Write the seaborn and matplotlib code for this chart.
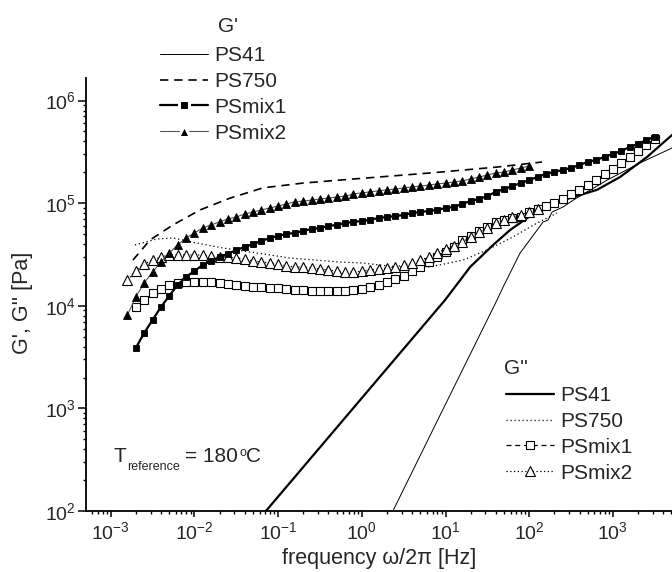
import matplotlib
matplotlib.use("Agg")
import matplotlib.pyplot as plt
from matplotlib.lines import Line2D
from matplotlib.ticker import FixedLocator, LogLocator, NullFormatter
import seaborn as sns

# ---------------- data ----------------
# common measuring grid (10 points per decade), Hz
freq_grid = [1.585e-3, 1.995e-3, 2.512e-3, 3.162e-3, 3.981e-3, 5.012e-3, 6.310e-3, 7.943e-3,
             1.000e-2, 1.259e-2, 1.585e-2, 1.995e-2, 2.512e-2, 3.162e-2, 3.981e-2, 5.012e-2, 6.310e-2, 7.943e-2,
             1.000e-1, 1.259e-1, 1.585e-1, 1.995e-1, 2.512e-1, 3.162e-1, 3.981e-1, 5.012e-1, 6.310e-1, 7.943e-1,
             1.000, 1.259, 1.585, 1.995, 2.512, 3.162, 3.981, 5.012, 6.310, 7.943,
             10.00, 12.59, 15.85, 19.95, 25.12, 31.62, 39.81, 50.12, 63.10, 79.43,
             100.0, 125.9, 158.5, 199.5, 251.2, 316.2, 398.1, 501.2, 631.0, 794.3,
             1000., 1259., 1585., 1995., 2512., 3162.]

freq_mix1 = freq_grid[1:64]
psmix1_Gp = [3.88e3, 5.43e3, 7.27e3, 9.73e3, 1.25e4, 1.60e4, 1.91e4, 2.18e4, 2.50e4, 2.73e4,
             2.99e4, 3.20e4, 3.50e4, 3.74e4, 4.00e4, 4.28e4, 4.58e4, 4.79e4, 5.01e4, 5.13e4,
             5.36e4, 5.61e4, 5.73e4, 6.00e4, 6.14e4, 6.41e4, 6.56e4, 6.71e4, 6.86e4, 7.18e4,
             7.33e4, 7.50e4, 7.67e4, 8.02e4, 8.20e4, 8.39e4, 8.59e4, 8.98e4, 9.19e4, 9.82e4,
             1.05e5, 1.10e5, 1.17e5, 1.29e5, 1.37e5, 1.47e5, 1.57e5, 1.68e5, 1.80e5, 1.93e5,
             2.01e5, 2.11e5, 2.20e5, 2.36e5, 2.52e5, 2.64e5, 2.82e5, 3.02e5, 3.23e5, 3.53e5,
             3.78e5, 4.13e5, 4.42e5]
psmix1_Gpp = [9.73e3, 1.14e4, 1.33e4, 1.46e4, 1.60e4, 1.67e4, 1.71e4, 1.71e4, 1.71e4, 1.71e4,
              1.67e4, 1.63e4, 1.60e4, 1.56e4, 1.52e4, 1.52e4, 1.49e4, 1.49e4, 1.46e4, 1.43e4,
              1.43e4, 1.39e4, 1.39e4, 1.39e4, 1.39e4, 1.39e4, 1.43e4, 1.46e4, 1.52e4, 1.60e4,
              1.71e4, 1.82e4, 1.95e4, 2.18e4, 2.39e4, 2.67e4, 2.99e4, 3.34e4, 3.74e4, 4.38e4,
              4.79e4, 5.36e4, 5.86e4, 6.56e4, 6.86e4, 7.18e4, 7.33e4, 8.20e4, 8.78e4, 9.40e4,
              1.00e5, 1.10e5, 1.23e5, 1.35e5, 1.50e5, 1.68e5, 1.93e5, 2.15e5, 2.47e5, 2.82e5,
              3.23e5, 3.69e5, 4.23e5]

freq_mix2_Gp = freq_grid[0:49]
psmix2_Gp = [8.13e3, 1.22e4, 1.67e4, 2.13e4, 2.67e4, 3.27e4, 3.92e4, 4.58e4, 5.13e4, 5.73e4,
             6.14e4, 6.56e4, 7.02e4, 7.33e4, 7.85e4, 8.20e4, 8.59e4, 8.98e4, 9.40e4, 9.82e4,
             1.03e5, 1.05e5, 1.07e5, 1.10e5, 1.12e5, 1.15e5, 1.17e5, 1.23e5, 1.26e5, 1.29e5,
             1.32e5, 1.35e5, 1.37e5, 1.41e5, 1.44e5, 1.47e5, 1.50e5, 1.54e5, 1.57e5, 1.61e5,
             1.65e5, 1.72e5, 1.80e5, 1.88e5, 1.97e5, 2.01e5, 2.11e5, 2.20e5, 2.31e5]
freq_mix2_Gpp = freq_grid[0:50]
psmix2_Gpp = [1.78e4, 2.18e4, 2.55e4, 2.79e4, 2.99e4, 3.13e4, 3.13e4, 3.13e4, 3.13e4, 3.13e4,
              3.06e4, 2.99e4, 2.99e4, 2.92e4, 2.86e4, 2.73e4, 2.67e4, 2.61e4, 2.55e4, 2.44e4,
              2.39e4, 2.39e4, 2.33e4, 2.28e4, 2.23e4, 2.18e4, 2.13e4, 2.13e4, 2.18e4, 2.23e4,
              2.28e4, 2.33e4, 2.39e4, 2.50e4, 2.61e4, 2.79e4, 2.99e4, 3.27e4, 3.58e4, 3.83e4,
              4.19e4, 4.69e4, 5.24e4, 5.73e4, 6.41e4, 6.86e4, 7.33e4, 7.67e4, 8.20e4, 8.78e4]

freq_ps41_Gp = [2.17, 9.89, 41.3, 48.7, 77.8, 146.6, 168, 187.6, 254, 334, 853, 2113, 5085]
ps41_Gp = [87.5, 1079, 1.14e4, 1.52e4, 3.27e4, 6.56e4, 6.86e4, 8.2e4, 9.19e4, 1.07e5,
           1.68e5, 2.47e5, 3.45e5]

freq_ps41_Gpp = [0.0608, 0.830, 9.89, 19.7, 37.1, 59.1, 102.5, 254, 647, 1217, 2556, 5085]
ps41_Gpp = [85.5, 1054, 1.14e4, 2.39e4, 3.92e4, 5.48e4, 7.50e4, 1.07e5, 1.35e5, 1.80e5,
            2.82e5, 4.62e5]

freq_ps750_Gp = [1.845e-3, 2.95e-3, 5.55e-3, 0.01167, 0.0266, 0.0660, 0.198, 0.549, 6.53, 41.3, 142]
ps750_Gp = [2.79e4, 4.38e4, 6.14e4, 8.59e4, 1.12e5, 1.41e5, 1.57e5, 1.68e5, 1.97e5, 2.25e5, 2.52e5]

freq_ps750_Gpp = [1.95e-3, 3.57e-3, 5.55e-3, 0.01074, 0.0220, 0.0560, 0.1387, 0.549, 1.03, 2.63,
                  6.53, 16.2, 31.3, 64.1, 124, 215]
ps750_Gpp = [3.92e4, 4.48e4, 4.58e4, 4.09e4, 3.66e4, 3.27e4, 2.92e4, 2.67e4, 2.61e4, 2.39e4,
             2.39e4, 2.79e4, 3.50e4, 4.69e4, 6.41e4, 8.02e4]

legend_labels = ["PS41", "PS750", "PSmix1", "PSmix2"]
x_major_ticks = [1e-3, 1e-2, 1e-1, 1e0, 1e1, 1e2, 1e3]
y_major_ticks = [1e2, 1e3, 1e4, 1e5, 1e6]

# ---------------- style ----------------
sns.set_style("ticks")
plt.rcParams["font.family"] = ["Liberation Sans", "DejaVu Sans"]
plt.rcParams["mathtext.fontset"] = "custom"
plt.rcParams["mathtext.rm"] = "Liberation Sans"
plt.rcParams["mathtext.it"] = "Liberation Sans:italic"
plt.rcParams["mathtext.default"] = "regular"

W, H = 672, 572
fig = plt.figure(figsize=(W / 100, H / 100), dpi=100)
ax = fig.add_axes([86 / W, 1 - 511 / H, (672 - 86) / W, (511 - 78) / H])
ax.set_xscale("log")
ax.set_yscale("log")

GRAY = "#555555"
st = {
    "ps41_Gp": dict(color="k", lw=0.7, ls="-"),
    "ps750_Gp": dict(color="k", lw=1.2, ls=(0, (5, 3.5))),
    "mix1_Gp": dict(color="k", lw=1.6, ls="-", marker="s", ms=5, mfc="k", mec="k", mew=0.6),
    "mix2_Gp": dict(color=GRAY, lw=0.8, ls="-", marker="^", ms=6, mfc="k", mec="k", mew=0.6),
    "ps41_Gpp": dict(color="k", lw=1.6, ls="-"),
    "ps750_Gpp": dict(color="k", lw=0.9, ls=(0, (1, 2.2))),
    "mix1_Gpp": dict(color="k", lw=0.9, ls=(0, (4, 3)), marker="s", ms=5.5, mfc="white", mec="k", mew=0.8),
    "mix2_Gpp": dict(color="k", lw=0.9, ls=(0, (1, 2)), marker="^", ms=6.5, mfc="white", mec="k", mew=0.8),
}

def draw(x, y, key):
    sns.lineplot(x=x, y=y, ax=ax, sort=False, errorbar=None, legend=False, **st[key])

draw(freq_ps41_Gp, ps41_Gp, "ps41_Gp")
draw(freq_ps41_Gpp, ps41_Gpp, "ps41_Gpp")
draw(freq_ps750_Gp, ps750_Gp, "ps750_Gp")
draw(freq_ps750_Gpp, ps750_Gpp, "ps750_Gpp")
draw(freq_mix1, psmix1_Gpp, "mix1_Gpp")
draw(freq_mix2_Gpp, psmix2_Gpp, "mix2_Gpp")
draw(freq_mix2_Gp, psmix2_Gp, "mix2_Gp")
draw(freq_mix1, psmix1_Gp, "mix1_Gp")

ax.set_xlim(5.07e-4, 5.08e3)
ax.set_ylim(1e2, 1.66e6)
ax.xaxis.set_major_locator(FixedLocator(x_major_ticks))
ax.yaxis.set_major_locator(FixedLocator(y_major_ticks))
ax.xaxis.set_major_formatter(matplotlib.ticker.LogFormatterSciNotation())
ax.yaxis.set_major_formatter(matplotlib.ticker.LogFormatterSciNotation())
ax.xaxis.set_minor_locator(LogLocator(base=10, subs=range(2, 10), numticks=100))
ax.yaxis.set_minor_locator(LogLocator(base=10, subs=range(2, 10), numticks=100))
ax.xaxis.set_minor_formatter(NullFormatter())
ax.yaxis.set_minor_formatter(NullFormatter())

for s in ["top", "right"]:
    ax.spines[s].set_visible(False)
for s in ["left", "bottom"]:
    ax.spines[s].set_linewidth(1.3)
    ax.spines[s].set_color("k")
ax.tick_params(which="major", direction="out", length=4.5, width=1.1, labelsize=14, color="k", pad=3)
ax.tick_params(which="minor", direction="out", length=2.5, width=1.0, color="k")
ax.tick_params(axis="y", which="major", length=6, pad=1.5)

ax.set_xlabel("frequency ω/2π [Hz]", fontsize=15.5)
ax.xaxis.set_label_coords(0.5, -0.085)
ax.set_ylabel("G', G'' [Pa]", fontsize=15.5)
ax.yaxis.set_label_coords(-0.09, 0.48)

# T_reference annotation, built from pieces
fs_main, fs_small = 15, 9
fig.text(113 / W, 1 - 462 / H, "T", fontsize=fs_main, va="baseline", ha="left")
fig.text(127 / W, 1 - 470 / H, "reference", fontsize=fs_small, va="baseline", ha="left")
fig.text(185 / W, 1 - 462 / H, "= 180", fontsize=fs_main, va="baseline", ha="left")
fig.text(239 / W, 1 - 456 / H, "o", fontsize=fs_small, va="baseline", ha="left")
fig.text(246 / W, 1 - 462 / H, "C", fontsize=fs_main, va="baseline", ha="left")

def handle(key, legend_gap=False):
    d = dict(st[key])
    if legend_gap and d.get("mfc") == "k":
        d["mec"] = "white"
        d["mew"] = 2.2
        d["ms"] = d["ms"] + 2.2
    return Line2D([], [], **d)

leg_fs = 15
leg_kw = dict(frameon=False, fontsize=leg_fs, handlelength=2.3, handletextpad=0.32,
              labelspacing=0.33, borderpad=0, borderaxespad=0, markerscale=1.0)
h1 = [handle(k, True) for k in ["ps41_Gp", "ps750_Gp", "mix1_Gp", "mix2_Gp"]]
leg1 = fig.legend(h1, legend_labels, loc="upper left",
                  bbox_to_anchor=(160 / W, 1 - 46 / H), **leg_kw)
fig.text(228 / W, 1 - 27 / H, "G'", fontsize=leg_fs, ha="center", va="center")
h2 = [handle(k) for k in ["ps41_Gpp", "ps750_Gpp", "mix1_Gpp", "mix2_Gpp"]]
leg2 = fig.legend(h2, legend_labels, loc="upper left",
                  bbox_to_anchor=(506 / W, 1 - 386 / H), **leg_kw)
fig.text(516 / W, 1 - 368 / H, "G''", fontsize=leg_fs, ha="center", va="center")

fig.savefig("out.png", dpi=100)
